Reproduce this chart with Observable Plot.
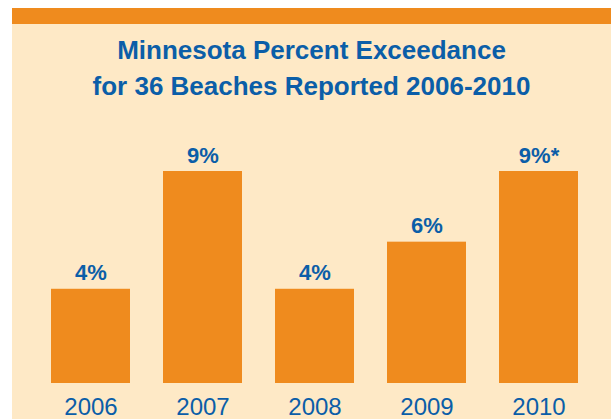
<!DOCTYPE html>
<html>
<head>
<meta charset="utf-8">
<script src="https://cdn.jsdelivr.net/npm/d3@7"></script>
<script src="https://cdn.jsdelivr.net/npm/@observablehq/plot@0.6"></script>
<style>
  html, body { margin: 0; padding: 0; background: #ffffff; }
  #wrap { width: 599px; margin-left: 12px; padding-top: 8px; }
  .band { height: 16px; background: #EF8B1E; }
  .panel { background: #FEE9C6; height: 395px; overflow: hidden; }
  h1 {
    margin: 0; padding-top: 8px;
    font-family: "Liberation Sans", Arial, sans-serif;
    font-weight: bold; font-size: 26px; line-height: 36px;
    color: #0B5EA8; text-align: center;
  }
  #chart svg { display: block; background: transparent; }
</style>
</head>
<body>
<div id="wrap">
  <div class="band"></div>
  <div class="panel">
    <h1>Minnesota Percent Exceedance<br>for 36 Beaches Reported 2006-2010</h1>
    <div id="chart"></div>
  </div>
</div>
<script>
const years = ["2006", "2007", "2008", "2009", "2010"];
const percents = [4, 9, 4, 6, 9];
const labels = ["4%", "9%", "4%", "6%", "9%*"];

const data = years.map((y, i) => ({year: y, value: percents[i], label: labels[i]}));

const chart = Plot.plot({
  width: 599,
  height: 315,
  marginLeft: 6,
  marginRight: 0,
  marginTop: 0,
  marginBottom: 36,
  style: {background: "transparent", fontFamily: "Liberation Sans, Arial, sans-serif", overflow: "visible"},
  x: {domain: years, padding: 0.2946, align: 0.5, label: null},
  y: {domain: [0, 9], range: [279, 67], axis: null},
  marks: [
    Plot.barY(data, {x: "year", y: "value", fill: "#EF8B1E"}),
    Plot.text(data, {x: "year", y: "value", text: "label", lineAnchor: "bottom", dy: -9,
      fill: "#0B5EA8", fontSize: 22, fontWeight: "bold"}),
    Plot.axisX({tickSize: 0, tickPadding: 14, fontSize: 24, color: "#0B5EA8", label: null})
  ]
});
document.getElementById("chart").appendChild(chart);
</script>
</body>
</html>
